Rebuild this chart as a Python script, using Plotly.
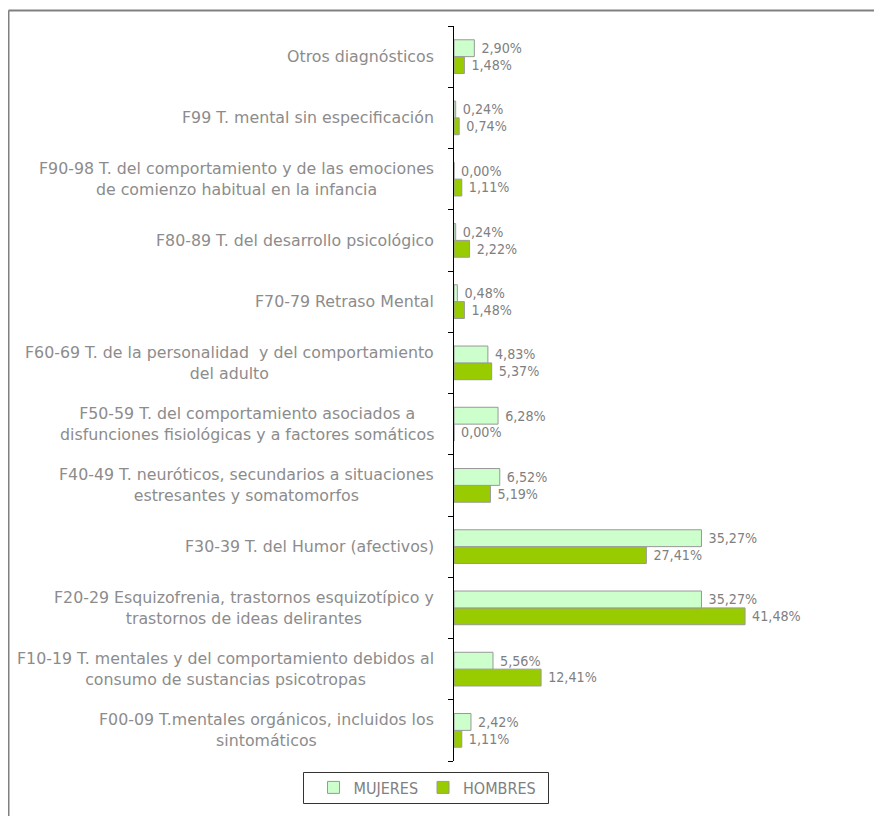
import plotly.graph_objects as go

# categories from bottom to top
categorias = [
    "F00-09 T.mentales orgánicos, incluidos los<br>sintomáticos",
    "F10-19 T. mentales y del comportamiento debidos al<br>consumo de sustancias psicotropas",
    "F20-29 Esquizofrenia, trastornos esquizotípico y<br>trastornos de ideas delirantes",
    "F30-39 T. del Humor (afectivos)",
    "F40-49 T. neuróticos, secundarios a situaciones<br>estresantes y somatomorfos",
    "F50-59 T. del comportamiento asociados a<br>disfunciones fisiológicas y a factores somáticos",
    "F60-69 T. de la personalidad  y del comportamiento<br>del adulto",
    "F70-79 Retraso Mental",
    "F80-89 T. del desarrollo psicológico",
    "F90-98 T. del comportamiento y de las emociones<br>de comienzo habitual en la infancia",
    "F99 T. mental sin especificación",
    "Otros diagnósticos",
]
mujeres = [2.42, 5.56, 35.27, 35.27, 6.52, 6.28, 4.83, 0.48, 0.24, 0.00, 0.24, 2.90]
hombres = [1.11, 12.41, 41.48, 27.41, 5.19, 0.00, 5.37, 1.48, 2.22, 1.11, 0.74, 1.48]

GRIS = "#808080"
NARROW = "Liberation Sans Narrow, DejaVu Sans Condensed, Roboto"
OFF = 8  # page body margin
W, H = 882 - OFF, 816 - OFF
ML, MR, MT, MB = 454 - OFF, 7, 26 - OFF, 55
pw, ph = W - ML - MR, H - MT - MB

px2x = lambda px: (px - OFF - ML) / pw
py2y = lambda py: (H - MB - (py - OFF)) / ph

fig = go.Figure()
fig.add_trace(go.Bar(
    y=categorias, x=hombres, name="HOMBRES", orientation="h",
    marker=dict(color="#99CC00", line=dict(color="#999999", width=1)),
    texttemplate="\u00a0%{x:.2f}%", textposition="outside", cliponaxis=False,
    textfont=dict(family=NARROW, size=16, color=GRIS), legendrank=2,
))
fig.add_trace(go.Bar(
    y=categorias, x=mujeres, name="MUJERES", orientation="h",
    marker=dict(color="#CCFFCC", line=dict(color="#999999", width=1)),
    texttemplate="\u00a0%{x:.2f}%", textposition="outside", cliponaxis=False,
    textfont=dict(family=NARROW, size=16, color=GRIS), legendrank=1,
))

annotations = [
    dict(x=px2x(436), xref="paper", y=c, yref="y", text=c, showarrow=False,
         xanchor="right", align="center",
         font=dict(family="DejaVu Sans", size=15.8, color="#8c8c8c"))
    for c in categorias
]

fig.update_layout(
    width=W, height=H, margin=dict(l=ML, r=MR, t=MT, b=MB),
    plot_bgcolor="white", paper_bgcolor="white",
    separators=",.", barmode="group", bargap=0.45, bargroupgap=0,
    xaxis=dict(range=[0, 60], visible=False),
    yaxis=dict(type="category", categoryorder="array", categoryarray=categorias,
               showticklabels=False, showline=True, linecolor="black", linewidth=1,
               ticks="outside", ticklen=5, tickcolor="black", tickson="boundaries",
               showgrid=False, zeroline=False),
    annotations=annotations,
    showlegend=True,
    legend=dict(orientation="h", x=px2x(427.5), xanchor="center", y=py2y(787.5), yanchor="middle",
                borderwidth=0, traceorder="normal", bgcolor="rgba(0,0,0,0)",
                font=dict(family=NARROW, size=16, color=GRIS), itemwidth=30),
    shapes=[
        dict(type="line", xref="paper", yref="paper", x0=px2x(8.5), x1=px2x(882),
             y0=py2y(10.5), y1=py2y(10.5), line=dict(color=GRIS, width=2)),
        dict(type="line", xref="paper", yref="paper", x0=px2x(8.5), x1=px2x(8.5),
             y0=py2y(10.5), y1=py2y(816), line=dict(color=GRIS, width=2)),
        dict(type="rect", xref="paper", yref="paper", x0=px2x(303.5), x1=px2x(548.5),
             y0=py2y(772.5), y1=py2y(803.5), line=dict(color="#333333", width=1)),
    ],
)

fig.write_html("out.html")
